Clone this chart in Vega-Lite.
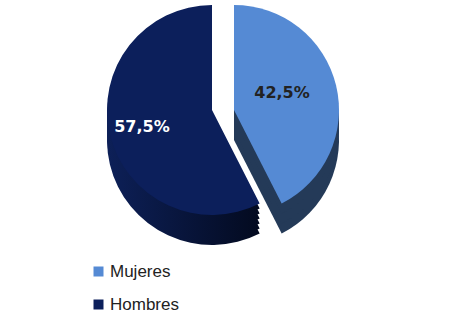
{
  "$schema": "https://vega.github.io/schema/vega-lite/v6.json",
  "width": 440,
  "height": 220,
  "autosize": {"type": "none"},
  "padding": {"left": 0, "top": 0, "right": 17, "bottom": 95},
  "background": "white",
  "config": {"view": {"stroke": null}},
  "data": {"values": [
    {"Sexo": "Mujeres", "Porcentaje": 42.5, "Etiqueta": "42,5%"},
    {"Sexo": "Hombres", "Porcentaje": 57.5, "Etiqueta": "57,5%"}
  ]},
  "transform": [
    {"stack": "Porcentaje", "groupby": [], "as": ["s0", "s1"], "sort": [{"field": "Sexo", "order": "descending"}]}
  ],
  "layer": [
    {"transform": [{"filter": "datum.Sexo == 'Hombres'"}], "mark": {"type": "arc", "radius": 105, "xOffset": -8, "yOffset": 30, "fill": {"gradient": "linear", "x1": 0, "y1": 0, "x2": 1, "y2": 0, "stops": [{"offset": 0, "color": "#0d2058"}, {"offset": 1, "color": "#030a1f"}]}},
     "encoding": {"theta": {"field": "s0", "type": "quantitative", "stack": null, "scale": {"domain": [0, 100]}}, "theta2": {"field": "s1"}}},
    {"transform": [{"filter": "datum.Sexo == 'Hombres'"}], "mark": {"type": "arc", "radius": 105, "xOffset": -8, "yOffset": 25, "fill": {"gradient": "linear", "x1": 0, "y1": 0, "x2": 1, "y2": 0, "stops": [{"offset": 0, "color": "#0d2058"}, {"offset": 1, "color": "#030a1f"}]}},
     "encoding": {"theta": {"field": "s0", "type": "quantitative", "stack": null}, "theta2": {"field": "s1"}}},
    {"transform": [{"filter": "datum.Sexo == 'Hombres'"}], "mark": {"type": "arc", "radius": 105, "xOffset": -8, "yOffset": 20, "fill": {"gradient": "linear", "x1": 0, "y1": 0, "x2": 1, "y2": 0, "stops": [{"offset": 0, "color": "#0d2058"}, {"offset": 1, "color": "#030a1f"}]}},
     "encoding": {"theta": {"field": "s0", "type": "quantitative", "stack": null}, "theta2": {"field": "s1"}}},
    {"transform": [{"filter": "datum.Sexo == 'Hombres'"}], "mark": {"type": "arc", "radius": 105, "xOffset": -8, "yOffset": 15, "fill": {"gradient": "linear", "x1": 0, "y1": 0, "x2": 1, "y2": 0, "stops": [{"offset": 0, "color": "#0d2058"}, {"offset": 1, "color": "#030a1f"}]}},
     "encoding": {"theta": {"field": "s0", "type": "quantitative", "stack": null}, "theta2": {"field": "s1"}}},
    {"transform": [{"filter": "datum.Sexo == 'Hombres'"}], "mark": {"type": "arc", "radius": 105, "xOffset": -8, "yOffset": 10, "fill": {"gradient": "linear", "x1": 0, "y1": 0, "x2": 1, "y2": 0, "stops": [{"offset": 0, "color": "#0d2058"}, {"offset": 1, "color": "#030a1f"}]}},
     "encoding": {"theta": {"field": "s0", "type": "quantitative", "stack": null}, "theta2": {"field": "s1"}}},
    {"transform": [{"filter": "datum.Sexo == 'Hombres'"}], "mark": {"type": "arc", "radius": 105, "xOffset": -8, "yOffset": 5, "fill": {"gradient": "linear", "x1": 0, "y1": 0, "x2": 1, "y2": 0, "stops": [{"offset": 0, "color": "#0d2058"}, {"offset": 1, "color": "#030a1f"}]}},
     "encoding": {"theta": {"field": "s0", "type": "quantitative", "stack": null}, "theta2": {"field": "s1"}}},
    {"transform": [{"filter": "datum.Sexo == 'Mujeres'"}], "mark": {"type": "arc", "radius": 105, "xOffset": 14, "yOffset": 30, "fill": "#243a58"},
     "encoding": {"theta": {"field": "s0", "type": "quantitative", "stack": null}, "theta2": {"field": "s1"}}},
    {"transform": [{"filter": "datum.Sexo == 'Mujeres'"}], "mark": {"type": "arc", "radius": 105, "xOffset": 14, "yOffset": 20, "fill": "#243a58"},
     "encoding": {"theta": {"field": "s0", "type": "quantitative", "stack": null}, "theta2": {"field": "s1"}}},
    {"transform": [{"filter": "datum.Sexo == 'Mujeres'"}], "mark": {"type": "arc", "radius": 105, "xOffset": 14, "yOffset": 10, "fill": "#243a58"},
     "encoding": {"theta": {"field": "s0", "type": "quantitative", "stack": null}, "theta2": {"field": "s1"}}},
    {"transform": [{"filter": "datum.Sexo == 'Hombres'"}], "mark": {"type": "arc", "radius": 105, "xOffset": -8},
     "encoding": {"theta": {"field": "s0", "type": "quantitative", "stack": null}, "theta2": {"field": "s1"},
       "color": {"field": "Sexo", "type": "nominal", "scale": {"domain": ["Mujeres", "Hombres"], "range": ["#558ad4", "#0c1f5b"]},
       "legend": {"title": null, "orient": "none", "legendX": 90, "legendY": 263, "symbolType": "square", "symbolSize": 100, "labelFontSize": 17, "labelFont": "Liberation Sans", "labelColor": "#222222", "rowPadding": 15, "labelOffset": 3, "symbolStrokeWidth": 0}}}},
    {"transform": [{"filter": "datum.Sexo == 'Mujeres'"}], "mark": {"type": "arc", "radius": 105, "xOffset": 14},
     "encoding": {"theta": {"field": "s0", "type": "quantitative", "stack": null}, "theta2": {"field": "s1"}, "color": {"field": "Sexo", "type": "nominal"}}},
    {"mark": {"type": "text", "fontSize": 16, "fontWeight": "bold", "font": "DejaVu Sans", "xOffset": -8},
     "encoding": {
       "theta": {"field": "Porcentaje", "type": "quantitative", "stack": true},
       "order": {"field": "Sexo", "sort": "descending"},
       "radius": {"condition": {"test": "datum.Sexo == 'Mujeres'", "value": 84}, "value": 72},
       "color": {"condition": {"test": "datum.Sexo == 'Mujeres'", "value": "#222222"}, "value": "#ffffff"},
       "text": {"field": "Etiqueta"}}}
  ]
}
